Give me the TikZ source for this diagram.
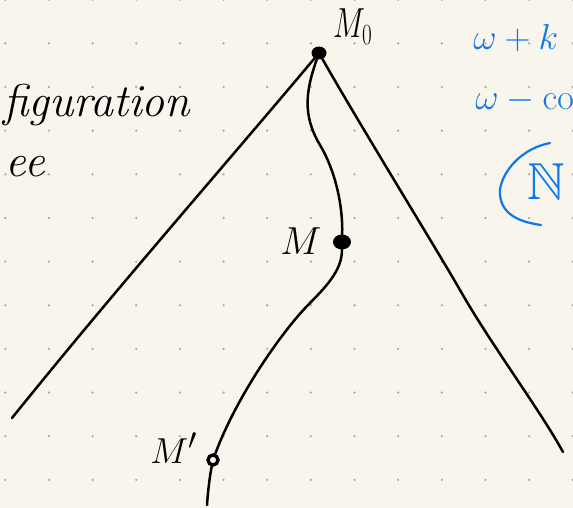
\documentclass[tikz,border=0pt]{standalone}
\usepackage{amssymb}
\usetikzlibrary{shapes.geometric}
\definecolor{paper}{RGB}{248,246,236}
\definecolor{griddot}{RGB}{172,172,170}
\definecolor{inkblue}{RGB}{16,118,234}
\begin{document}
\begin{tikzpicture}[x=1pt,y=-1pt,
  ink/.style={line width=2.5pt, line cap=round, line join=round},
  bluepen/.style={draw=inkblue, line width=2.2pt, line cap=round},
  hand/.style={inner sep=0pt, anchor=base west},
  mathlabel/.style={hand, font=\Huge},
  blob/.style={ellipse, fill=black, inner sep=0pt},
]
\fill[paper] (0,0) rectangle (573,508);
\useasboundingbox (0,0) rectangle (573,508);
\foreach \i in {0,...,13} \foreach \j in {0,...,11}
  \fill[griddot] (5.3+43.65*\i, -0.3+43.65*\j) circle (1.3);

% points
\node[blob, minimum width=15pt, minimum height=13pt] (m0) at (319,53) {};
\node[blob, minimum width=18pt, minimum height=15pt] (m) at (342,242) {};
\node[circle, draw, line width=3.4pt, minimum size=10pt, inner sep=0pt, fill=paper] (mp) at (213,460) {};
\coordinate (endL) at (12,418);
\coordinate (endR) at (563,452);
\coordinate (endB) at (207,505);

% branches
\draw[ink] (m0) .. controls (225,165) and (115,290) .. (endL);
\draw[ink] (m0) .. controls (360,125) and (440,255) .. (460,290) .. controls (490,343) and (540,410) .. (endR);
\draw[ink] (m0) .. controls (306,90) and (302,115) .. (320,145) .. controls (335,170) and (343,205) .. (m);
\draw[ink] (m) .. controls (342,268) and (330,283) .. (310,303) .. controls (280,333) and (235,400) .. (mp);
\draw[ink] (mp) .. controls (210,475) and (208,490) .. (endB);

% labels
\node[mathlabel, xscale=1.22, yscale=1.69] (l0) at (333,38) {$M_{\scriptscriptstyle 0}$};
\node[mathlabel, scale=1.57] (lm) at (280,254) {$M$};
\node[mathlabel, scale=1.45] (lmp) at (150,463) {$M'$};

% left text
\node[hand, font=\fontsize{46}{46}\selectfont\itshape] (t1) at (3,117) {figuration};
\node[inner sep=0pt, anchor=base east, font=\fontsize{46}{46}\selectfont\itshape] (t2) at (45,176) {ee};

% blue notes
\node[mathlabel, text=inkblue, scale=1.45] (b1) at (473,50) {$\omega+k$};
\node[mathlabel, text=inkblue, scale=1.45] (b2) at (475,110) {$\omega-\mathrm{co}$};
\draw[bluepen] (550,143) .. controls (515,150) and (498,180) .. (500,195) .. controls (502,215) and (520,222) .. (541,225);
\node[mathlabel, text=inkblue, scale=2.09] (b3) at (527,200) {$\mathbb{N}$};
\end{tikzpicture}
\end{document}
